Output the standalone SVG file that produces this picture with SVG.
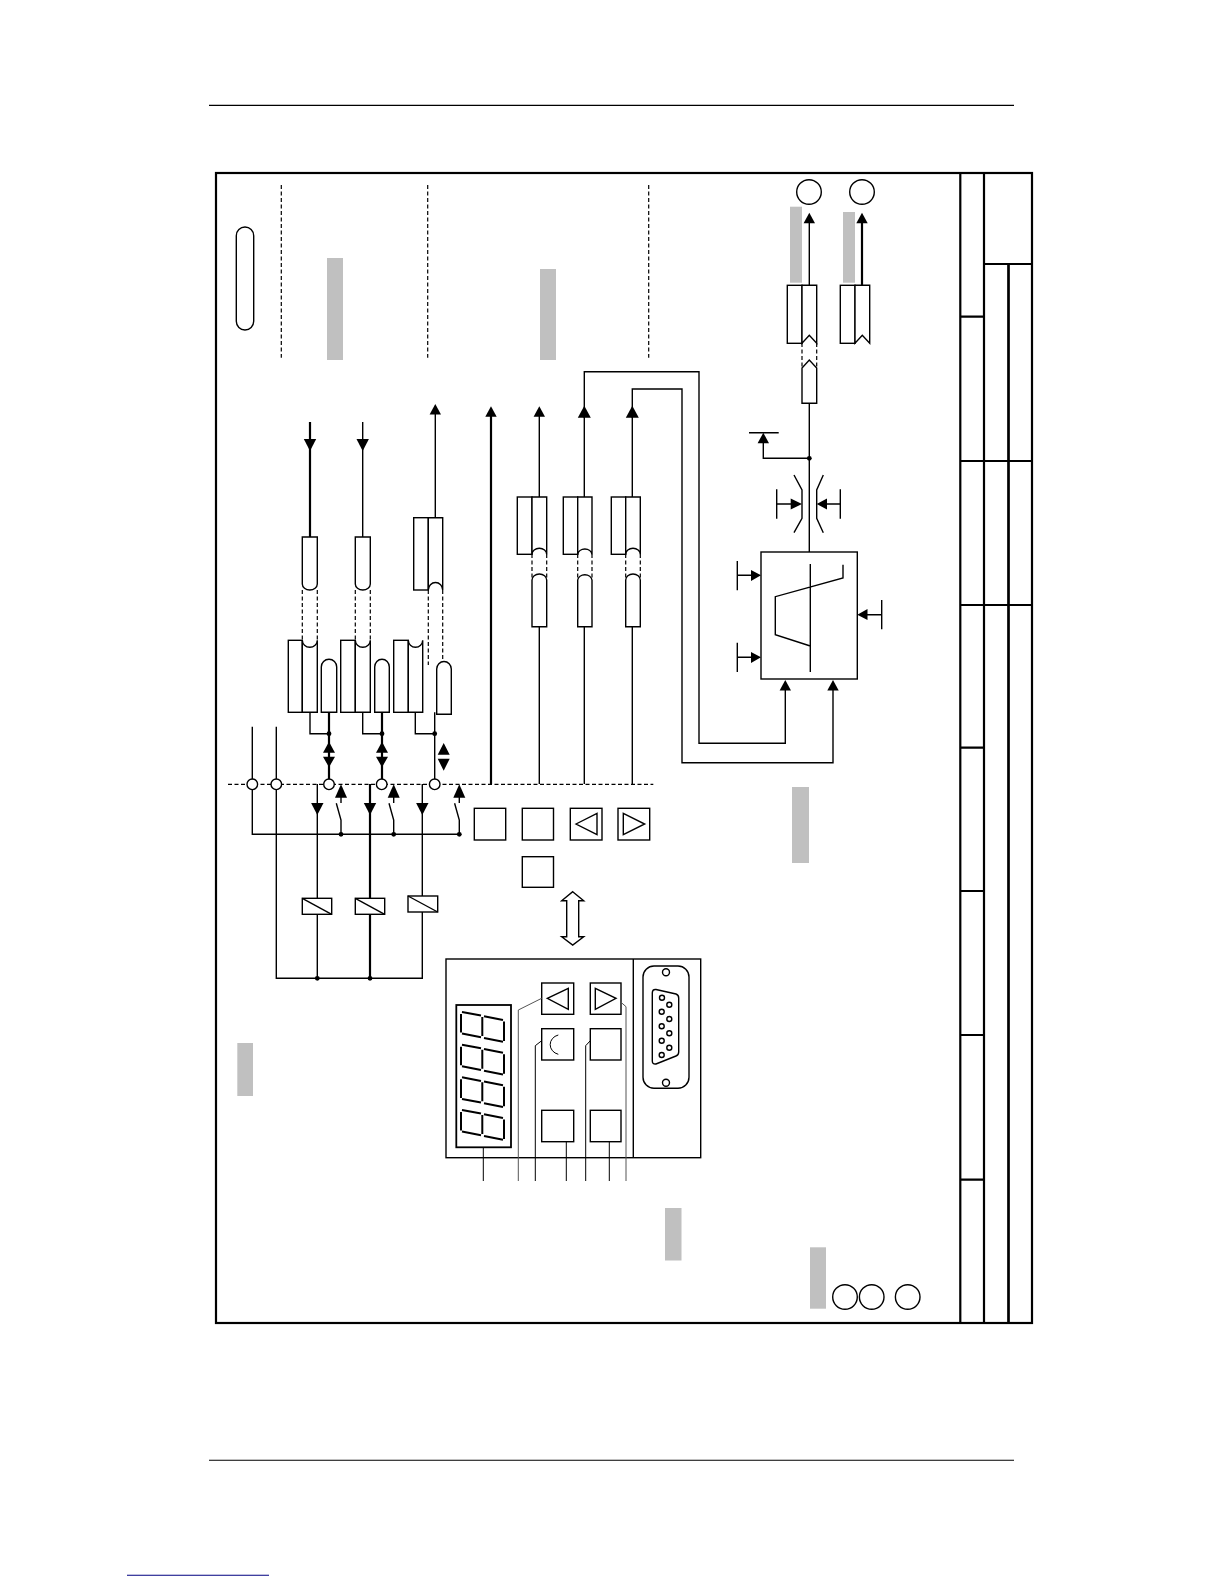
<svg xmlns="http://www.w3.org/2000/svg" width="1224" height="1584" viewBox="0 0 1224 1584">
<style>
.l{fill:none;stroke:#000;stroke-width:1.4}
.t{fill:none;stroke:#000;stroke-width:2.2}
.g{fill:none;stroke:#555;stroke-width:1}
.d{fill:none;stroke:#000;stroke-width:1.2;stroke-dasharray:4 2.5}
.b{fill:#fff;stroke:#000;stroke-width:1.4}
.f{fill:none;stroke:#000;stroke-width:2.2}
.a{fill:#000}
.gr{fill:#c0c0c0}
.s{fill:none;stroke:#000;stroke-width:2}
</style>
<defs>
<g id="up1"><path class="a" d="M0 0L-5.7 10.5H5.7Z"/></g>
<g id="up2"><path class="a" d="M0 0L-6.5 12H6.5Z"/></g>
<g id="dn"><path class="a" d="M0 0L-6.2-12H6.2Z"/></g>
<g id="digit">
<path class="s" d="M462 1012L481 1015.6M484 1016.2L503 1020M461 1014V1032.6M482.3 1017V1036M504 1021.5V1041M462 1033.6L481 1037.3M484 1038L503 1041.8"/>
</g>
<g id="pair"><path class="a" d="M0 741.7L-6 752.7H6ZM0 767.3L-6 756.7H6Z"/></g>
<g id="contact"><path class="l" d="M-4.7 803.3L0 820V834.3M0 797V803"/><path class="a" d="M0 784.3L-6 797.7H6Z"/><circle class="a" cy="834.3" r="2.4"/></g>
</defs>
<rect width="1224" height="1584" fill="#fff"/>
<g id="page-rules">
<path d="M209 105.4H1014M209 1460.3H1014" stroke="#000" stroke-width="1.1" fill="none"/>
<path d="M127 1575.3H269" stroke="#000080" stroke-width="1.1" fill="none"/>
</g>
<g id="frame">
<rect class="f" x="216" y="173" width="816" height="1150"/>
<path class="f" d="M960.3 173V1323M984 173V1323"/>
<path class="f" style="stroke-width:2.7" d="M1008.5 264V1323"/>
<path class="f" d="M984 264H1032M960.3 316.7H984M960.3 461H1032M960.3 605H1032M960.3 747.7H984M960.3 891H984M960.3 1035H984M960.3 1179.7H984"/>
</g>
<g id="shading">
<rect class="gr" x="327" y="258" width="16" height="102"/>
<rect class="gr" x="540" y="269" width="16" height="91"/>
<rect class="gr" x="790" y="206.7" width="12" height="76"/>
<rect class="gr" x="843" y="212" width="12" height="70.7"/>
<rect class="gr" x="792" y="787" width="17" height="76"/>
<rect class="gr" x="237.3" y="1043" width="15.7" height="53"/>
<rect class="gr" x="665" y="1208" width="16.5" height="52.5"/>
<rect class="gr" x="810" y="1247.3" width="16" height="61.4"/>
</g>
<g id="pill"><rect class="b" x="236.3" y="227" width="17.4" height="103" rx="8.7"/></g>
<g id="dividers">
<path class="d" d="M281.3 185V357.7M427.7 185V357.7M648.7 185V357.7"/>
<path class="d" d="M228 784.3H653.3"/>
</g>
<g id="connectors">
<path class="t" d="M310 422V537M491 784V414"/>
<path class="l" d="M362.7 422V537M435.3 518V412M539.3 497V414M584.3 497V416M632.3 497V416M539.3 626.7V784M584.3 626.7V784M632.3 626.7V784"/>
<path class="l" d="M584.3 418V371.7H699V743.3H785.3V690M632.3 418V389H682V762.7H833V690"/>
<path class="l" d="M310 712.3V733.7H329M362.7 712.3V733.7H382M415.3 712.3V733.7H434.7"/>
<path class="t" d="M329 712.3V784M382 712.3V784"/>
<path class="l" d="M434.7 712.3V784M252.3 726.7V834.3H459.3M276.3 726.7V978.3H422.3V784M317.3 784V978.3"/>
<path class="t" d="M370 784V978.3"/>
<path class="d" d="M302.3 590V641M317.3 590V641M355.3 590V641M370.3 590V641M428.3 590V665M442.7 590V662M532 554V578M546.7 554V578M577.7 554V578M592 554V578M625.7 554V578M640.3 554V578M802 343V367M816.7 343V367"/>
<path class="l" d="M809.3 403V552M809.3 222V285.3"/>
<path class="t" d="M862 222V285.3"/>
<path class="l" d="M809.3 458.3H763.3V440M749 432.7H778.7"/>
<path class="l" d="M794 475L802 490V518.3L794 532.7M823.3 475L816.7 490V518.3L823.3 532.7"/>
<path class="l" d="M776.7 489.3V518.7M776.7 504H792M840.3 489.3V518.7M840.3 504H826M737.3 561V590.3M737.3 575.3H752M737.3 642.7V672M737.3 657.3H752M881.7 600V629.3M881.7 614.7H867"/>
<use href="#dn" x="310" y="451"/><use href="#dn" x="362.7" y="451"/>
<use href="#up1" x="435.3" y="404"/><use href="#up1" x="491" y="406.3"/><use href="#up1" x="539.3" y="406.3"/>
<use href="#up2" x="584.3" y="405.7"/><use href="#up2" x="632.3" y="405.7"/>
<use href="#up1" x="809.3" y="212.7"/><use href="#up1" x="862" y="212.7"/><use href="#up1" x="763.3" y="432.7"/>
<use href="#up1" x="785.3" y="680"/><use href="#up1" x="833" y="680"/>
<path class="a" d="M802 504L790.7 498.5V509.5ZM816.7 504L827 498.5V509.5ZM761 575.3L751 570V581ZM761 657.3L751 652V663ZM857.3 614.7L867.5 609V620Z"/>
<use href="#pair" x="329"/><use href="#pair" x="382"/>
<path class="a" d="M443.7 743L437.7 754.7H449.7ZM443.7 770.7L437.7 758.7H449.7Z"/>
<use href="#dn" x="317.3" y="815"/><use href="#dn" x="370" y="815"/><use href="#dn" x="422.3" y="815"/>
<use href="#contact" x="341"/><use href="#contact" x="393.7"/><use href="#contact" x="459.3"/>
<g class="a"><circle cx="329" cy="733.7" r="2.4"/><circle cx="382" cy="733.7" r="2.4"/><circle cx="434.7" cy="733.7" r="2.4"/><circle cx="317.3" cy="978.3" r="2.4"/><circle cx="370" cy="978.3" r="2.4"/><circle cx="809.3" cy="458.3" r="2.4"/></g>
</g>
<g id="terminals">
<circle class="b" cx="252.3" cy="784.3" r="5.3"/><circle class="b" cx="276.3" cy="784.3" r="5.3"/><circle class="b" cx="329" cy="784.3" r="5.3"/><circle class="b" cx="381.7" cy="784.3" r="5.3"/><circle class="b" cx="434.7" cy="784.3" r="5.3"/>
</g>
<g id="relay-coils">
<g id="coil1"><rect class="b" x="302.3" y="898.3" width="29.4" height="16"/><path class="l" d="M302.3 898.3L331.7 914.3"/></g>
<g id="coil2"><rect class="b" x="355.3" y="898.3" width="29.4" height="16"/><path class="l" d="M355.3 898.3L384.7 914.3"/></g>
<g id="coil3"><rect class="b" x="408" y="896" width="29.7" height="16"/><path class="l" d="M408 896L437.7 912"/></g>
</g>
<g id="slot-top">
<g id="a1"><path class="b" d="M302.3 537H317.3V584A7.5 6 0 0 1 302.3 584Z"/>
<rect class="b" x="288.3" y="640.3" width="14" height="72"/><path class="b" d="M302.3 640.3A7.5 7 0 0 0 317.3 640.3V712.3H302.3Z"/><path class="b" d="M321.3 712.3V667A7.7 7.7 0 0 1 336.7 667V712.3Z"/></g>
<g id="a2"><path class="b" d="M355.3 537H370.3V584A7.5 6 0 0 1 355.3 584Z"/>
<rect class="b" x="340.7" y="640.3" width="14.6" height="72"/><path class="b" d="M355.3 640.3A7.5 7 0 0 0 370.3 640.3V712.3H355.3Z"/><path class="b" d="M374.7 712.3V667A7.3 7.7 0 0 1 389.3 667V712.3Z"/></g>
<g id="a3"><rect class="b" x="393.7" y="640.3" width="14.6" height="72"/><path class="b" d="M408.3 640.3A7.2 7 0 0 0 422.7 640.3V712.3H408.3Z"/>
<rect class="b" x="413.7" y="517.7" width="14.6" height="72.3"/><path class="b" d="M428.3 517.7H442.7V590A7.2 7.5 0 0 0 428.3 590Z"/><path class="b" d="M436.7 714.3V669A7.3 7.5 0 0 1 451.3 669V714.3Z"/></g>
</g>
<g id="slot-mid">
<g id="b1"><rect class="b" x="517.3" y="497" width="14.7" height="57.3"/><path class="b" d="M532 497H546.7V554.3A7.3 6 0 0 0 532 554.3Z"/><path class="b" d="M532 626.7V580A7.3 6 0 0 1 546.7 580V626.7Z"/></g>
<g id="b2"><rect class="b" x="563.3" y="497" width="14.4" height="57.3"/><path class="b" d="M577.7 497H592V554.3A7.2 6 0 0 0 577.7 554.3Z"/><path class="b" d="M577.7 626.7V580A7.2 6 0 0 1 592 580V626.7Z"/></g>
<g id="b3"><rect class="b" x="611.3" y="497" width="14.4" height="57.3"/><path class="b" d="M625.7 497H640.3V554.3A7.3 6 0 0 0 625.7 554.3Z"/><path class="b" d="M625.7 626.7V580A7.3 6 0 0 1 640.3 580V626.7Z"/></g>
</g>
<g id="slot-out">
<g id="c1"><rect class="b" x="787.3" y="285.3" width="14.7" height="58"/><path class="b" d="M802 285.3H816.7V343.3L809.3 335.3L802 343.3Z"/><path class="b" d="M802 403.3V368L809.3 360L816.7 368V403.3Z"/></g>
<g id="c2"><rect class="b" x="840.3" y="285.3" width="14.7" height="58"/><path class="b" d="M855 285.3H869.7V343.3L862.3 335.3L855 343.3Z"/></g>
<circle class="l" cx="809" cy="192" r="12.3"/>
<circle class="l" cx="862" cy="192" r="12.3"/>
</g>
<g id="thyristor">
<rect class="b" x="761" y="552" width="96.3" height="127"/>
<path class="l" d="M810.3 564V672M843 564.7V578L775.3 596.7V634.7L810.3 646"/>
</g>
<g id="keys">
<rect class="b" x="474.3" y="808.3" width="31.4" height="31.7"/>
<rect class="b" x="522.3" y="808.3" width="31.2" height="31.7"/>
<rect class="b" x="570.3" y="808.3" width="31.7" height="31.7"/><path class="b" d="M576 824L597 813.3V834.7Z"/>
<rect class="b" x="618" y="808.3" width="31.7" height="31.7"/><path class="b" d="M623.3 813.3V834.7L644.7 824Z"/>
<rect class="b" x="522.3" y="856.7" width="31.2" height="30.6"/>
<path id="link" class="b" d="M572.7 891.7L583.7 900.7H578.7V936.7H583.7L572.7 945L561.7 936.7H566.7V900.7H561.7Z"/>
</g>
<g id="panel">
<rect class="b" x="446" y="959" width="254.7" height="198.7"/>
<path class="l" d="M633.3 959V1157.7"/>
<rect class="b" style="stroke-width:1.8" x="456.3" y="1005" width="54.7" height="142.3"/>
<use href="#digit"/><use href="#digit" y="32.7"/><use href="#digit" y="65.3"/><use href="#digit" y="98"/>
<rect class="b" x="541.7" y="983" width="32" height="31.3"/><path class="b" d="M547.3 998.3L568.3 988.3V1009.3Z"/>
<rect class="b" x="590.3" y="983" width="30.7" height="31.3"/><path class="b" d="M595.3 988.3V1009.3L616 998.3Z"/>
<rect class="b" x="541.7" y="1028.7" width="32" height="31.3"/><path class="l" style="stroke-width:1" d="M558.3 1035A11 10 0 0 0 558.3 1054.3"/>
<rect class="b" x="590.3" y="1028.7" width="30.7" height="31.3"/>
<rect class="b" x="541.7" y="1110.3" width="32" height="31.4"/>
<rect class="b" x="590.3" y="1110.3" width="30.7" height="31.4"/>
<path class="l" style="stroke-width:1" d="M483.3 1147.3V1181M566.3 1141.7V1181M609.3 1141.7V1181M535.3 1181V1045.7L541.7 1040.7M585.7 1181V1045.7L590.3 1040.7"/>
<path class="g" d="M518.3 1181V1010L541.7 998.3M626 1181V1006.7L621 1002.3"/>
<g id="dsub">
<rect class="b" x="643" y="966" width="46" height="122.3" rx="11"/>
<circle class="l" cx="666" cy="972.3" r="3.5"/><circle class="l" cx="666" cy="1082.7" r="3.5"/>
<path class="l" d="M656 989.5L676 994Q678.7 995 678.7 998V1052Q678.7 1055 676 1056L656 1064Q652.3 1064.5 652.3 1061V993Q652.3 989 656 989.5Z"/>
<circle class="l" cx="662" cy="997.7" r="2.5"/><circle class="l" cx="669.3" cy="1004.7" r="2.5"/><circle class="l" cx="661.7" cy="1011.7" r="2.5"/><circle class="l" cx="669.3" cy="1019" r="2.5"/><circle class="l" cx="661.7" cy="1026.3" r="2.5"/><circle class="l" cx="669.3" cy="1033.3" r="2.5"/><circle class="l" cx="661.7" cy="1040.7" r="2.5"/><circle class="l" cx="669.3" cy="1047.7" r="2.5"/><circle class="l" cx="661.7" cy="1055" r="2.5"/>
</g>
</g>
<g id="marks">
<circle class="l" cx="845" cy="1297" r="12.3"/><circle class="l" cx="871.7" cy="1297" r="12.3"/><circle class="l" cx="907.7" cy="1297" r="12.3"/>
</g>
</svg>
